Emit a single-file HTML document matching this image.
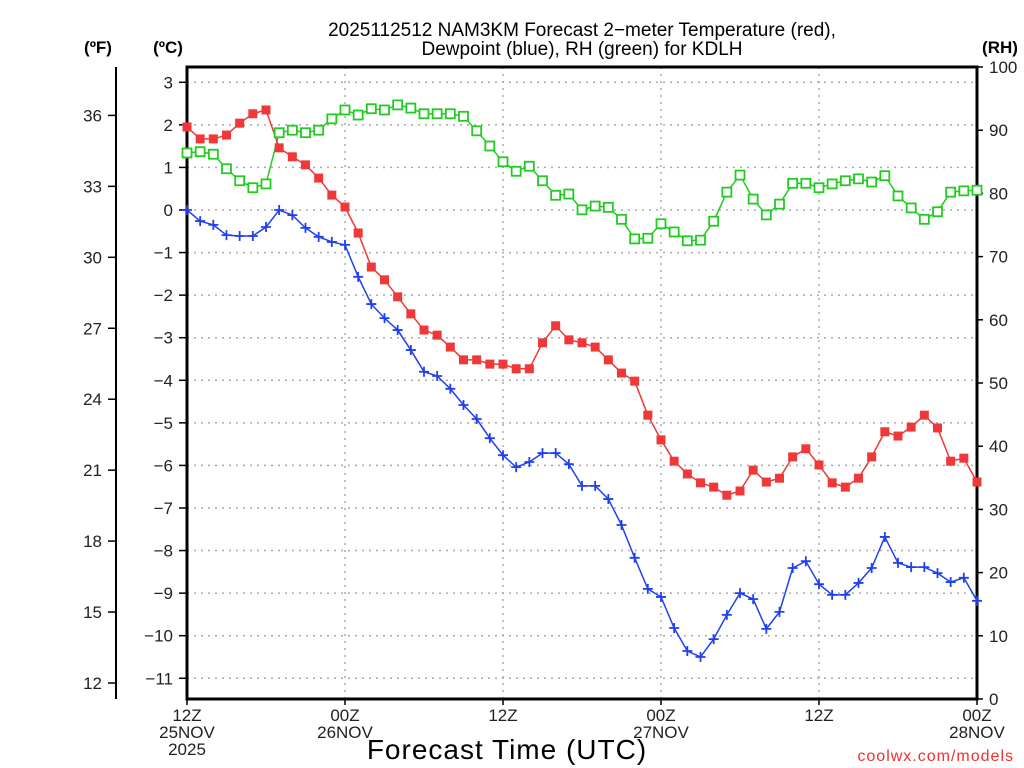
<!DOCTYPE html>
<html><head><meta charset="utf-8"><style>
html,body{margin:0;padding:0;background:#fff;}
svg{display:block;font-family:"Liberation Sans",sans-serif;}
</style></head><body>
<svg id="c" width="1024" height="768" viewBox="0 0 1024 768">
<g id="grid"></g>
<g id="axes"></g>
<g id="series"></g>
<text x="582" y="36" font-size="19" text-anchor="middle">2025112512 NAM3KM Forecast 2−meter Temperature (red),</text>
<text x="582" y="55" font-size="19" text-anchor="middle">Dewpoint (blue), RH (green) for KDLH</text>
<text x="98" y="53" font-size="17" font-weight="bold" text-anchor="middle">(ºF)</text>
<text x="168" y="53" font-size="17" font-weight="bold" text-anchor="middle">(ºC)</text>
<text x="1000" y="53" font-size="17" font-weight="bold" text-anchor="middle">(RH)</text>
<text x="507" y="759" font-size="28" text-anchor="middle" letter-spacing="1">Forecast Time (UTC)</text>
<text x="1014" y="761" font-size="16" fill="#f03030" text-anchor="end" letter-spacing="1">coolwx.com/models</text>
</svg>
<script>
const tempC=[1.95,1.67,1.67,1.76,2.04,2.26,2.35,1.46,1.25,1.06,0.75,0.35,0.07,-0.54,-1.34,-1.64,-2.04,-2.44,-2.82,-2.94,-3.22,-3.52,-3.52,-3.62,-3.62,-3.73,-3.73,-3.12,-2.72,-3.05,-3.12,-3.22,-3.52,-3.83,-4.02,-4.82,-5.4,-5.9,-6.2,-6.41,-6.51,-6.7,-6.6,-6.11,-6.39,-6.3,-5.8,-5.61,-5.99,-6.41,-6.51,-6.3,-5.8,-5.21,-5.31,-5.1,-4.82,-5.12,-5.9,-5.83,-6.39];
const dewC=[0,-0.26,-0.35,-0.59,-0.61,-0.61,-0.4,0,-0.12,-0.42,-0.63,-0.75,-0.82,-1.57,-2.21,-2.54,-2.82,-3.29,-3.8,-3.9,-4.2,-4.58,-4.91,-5.36,-5.76,-6.04,-5.92,-5.71,-5.71,-5.97,-6.48,-6.48,-6.79,-7.4,-8.17,-8.9,-9.09,-9.82,-10.36,-10.5,-10.08,-9.51,-9.0,-9.14,-9.84,-9.44,-8.41,-8.25,-8.79,-9.04,-9.04,-8.76,-8.41,-7.68,-8.29,-8.39,-8.39,-8.53,-8.74,-8.64,-9.18];
const rh=[86.4,86.6,86.2,83.9,82,80.9,81.5,89.6,90,89.6,90,91.8,93.2,92.4,93.4,93.2,94,93.5,92.6,92.6,92.6,92.2,89.9,87.5,85,83.5,84.3,82,79.7,79.9,77.4,78,77.8,75.9,72.8,72.9,75.2,73.9,72.5,72.6,75.6,80.2,82.9,79.1,76.6,78.3,81.6,81.6,80.9,81.5,82,82.3,81.8,82.8,79.6,77.7,75.9,77.1,80.2,80.4,80.5];
const cTicks=[3,2,1,0,-1,-2,-3,-4,-5,-6,-7,-8,-9,-10,-11];
const fTicks=[36,33,30,27,24,21,18,15,12];
const rhTicks=[100,90,80,70,60,50,40,30,20,10,0];
const xTickHours=[0,12,24,36,48,60];
const xTickLabels=[["12Z","25NOV","2025"],["00Z","26NOV"],["12Z"],["00Z","27NOV"],["12Z"],["00Z","28NOV"]];

const NS="http://www.w3.org/2000/svg";
const L=187,R=977,T=67,B=699;
const xs=h=>L+(R-L)*h/60;
const yC=c=>210-42.57*c;
const yF=f=>yC((f-32)*5/9);
const yR=v=>B-(B-T)*v/100;
function mk(tag,attrs,parent){const e=document.createElementNS(NS,tag);for(const k in attrs)e.setAttribute(k,attrs[k]);parent.appendChild(e);return e;}
const grid=document.getElementById('grid'),axes=document.getElementById('axes'),ser=document.getElementById('series');

cTicks.forEach(c=>{
  const y=yC(c);
  const g=mk('line',{x1:L,x2:R,y1:y,y2:y,stroke:'#aaa','stroke-width':1.5,'stroke-dasharray':'2,5'},grid);
  
  
  mk('line',{x1:L-8,x2:L,y1:y,y2:y,stroke:'#000','stroke-width':1.5},axes);
  const t=mk('text',{x:L-14,y:y+6,'font-size':17,'text-anchor':'end',fill:'#222'},axes);
  t.textContent=(c<0?'−':'')+Math.abs(c);
  
  
});
xTickHours.forEach((h,i)=>{
  const x=xs(h);
  if(i>0&&i<xTickHours.length-1){
    const g=mk('line',{x1:x,x2:x,y1:T,y2:B,stroke:'#aaa','stroke-width':1.5,'stroke-dasharray':'2,5'},grid);
    
    
  }
  mk('line',{x1:x,x2:x,y1:B,y2:B+6,stroke:'#000','stroke-width':1.5},axes);
  xTickLabels[i].forEach((s,j)=>{
    const t=mk('text',{x:x,y:B+22+j*17,'font-size':17,'text-anchor':'middle',fill:'#222'},axes);
    t.textContent=s;
    
    
  });
});
fTicks.forEach(f=>{
  const y=yF(f);
  mk('line',{x1:108,x2:116,y1:y,y2:y,stroke:'#000','stroke-width':1.5},axes);
  const t=mk('text',{x:102,y:y+6,'font-size':17,'text-anchor':'end',fill:'#222'},axes);
  t.textContent=f;
  
  
});
mk('line',{x1:116,x2:116,y1:T,y2:B,stroke:'#000','stroke-width':2},axes);
rhTicks.forEach(v=>{
  const y=yR(v);
  mk('line',{x1:R,x2:R+6,y1:y,y2:y,stroke:'#000','stroke-width':1.5},axes);
  const t=mk('text',{x:R+12,y:y+6,'font-size':17,'text-anchor':'start',fill:'#222'},axes);
  t.textContent=v;
  
  
});
const frame=mk('rect',{x:L,y:T,width:R-L,height:B-T,fill:'none',stroke:'#000','stroke-width':3},axes);



function line(vals,yf,color,name){
  const p=mk('polyline',{points:vals.map((v,i)=>xs(i)+','+yf(v)).join(' '),fill:'none',stroke:color,'stroke-width':1.5},ser);
  
  
}
line(rh,yR,'#20cc20','rh-line');
line(tempC,yC,'#f03838','temperature-line');
line(dewC,yC,'#2040f0','dewpoint-line');
rh.forEach((v,i)=>{
  const r=mk('rect',{x:xs(i)-4.5,y:yR(v)-4.5,width:9,height:9,fill:'#fff',stroke:'#20cc20','stroke-width':1.8},ser);
  
  
});
tempC.forEach((v,i)=>{
  const r=mk('rect',{x:xs(i)-4.5,y:yC(v)-4.5,width:9,height:9,fill:'#f03838'},ser);
  
  
});
dewC.forEach((v,i)=>{
  const x=xs(i),y=yC(v);
  const p=mk('path',{d:`M${x-5},${y}H${x+5}M${x},${y-5}V${y+5}`,stroke:'#2040f0','stroke-width':1.8},ser);
  
  
});
</script>
</body></html>
